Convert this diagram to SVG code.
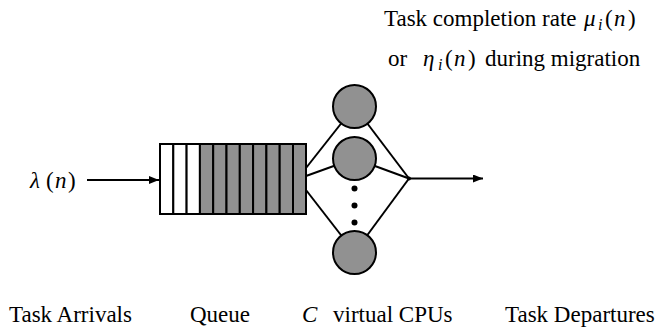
<svg xmlns="http://www.w3.org/2000/svg" width="657" height="335" viewBox="0 0 657 335">
<defs>
<style>
.ln{stroke:#000;stroke-width:2;fill:none}
.cpu{fill:#919191;stroke:#000;stroke-width:2}
.cell{stroke:#000;stroke-width:2}
</style>
<marker id="ah" viewBox="0 0 10 8" refX="10" refY="4" markerWidth="10" markerHeight="8" markerUnits="userSpaceOnUse" orient="auto">
<path d="M0,0 L10,4 L0,8 Z" fill="#000"/>
</marker>
</defs>
<rect width="657" height="335" fill="#fff"/>
<g id="connectors">
<line class="ln" x1="87" y1="180" x2="159" y2="180" marker-end="url(#ah)"/>
<line class="ln" x1="306" y1="168" x2="354.5" y2="106.5"/>
<line class="ln" x1="306" y1="176" x2="354.5" y2="158.5"/>
<line class="ln" x1="306" y1="190" x2="354.5" y2="252.5"/>
<line class="ln" x1="354.5" y1="106.5" x2="409" y2="178.5"/>
<line class="ln" x1="354.5" y1="158.5" x2="409" y2="178.5"/>
<line class="ln" x1="354.5" y1="252.5" x2="409" y2="178.5"/>
<line class="ln" x1="409" y1="178.5" x2="483" y2="178.5" marker-end="url(#ah)"/>
<circle cx="409" cy="178.5" r="2" fill="#000"/>
</g>
<g id="queue">
<rect class="cell" x="160" y="144" width="13.3" height="70" fill="#fff"/>
<rect class="cell" x="173.3" y="144" width="13.3" height="70" fill="#fff"/>
<rect class="cell" x="186.6" y="144" width="13.3" height="70" fill="#fff"/>
<rect class="cell" x="199.9" y="144" width="13.3" height="70" fill="#919191"/>
<rect class="cell" x="213.2" y="144" width="13.3" height="70" fill="#919191"/>
<rect class="cell" x="226.5" y="144" width="13.3" height="70" fill="#919191"/>
<rect class="cell" x="239.8" y="144" width="13.3" height="70" fill="#919191"/>
<rect class="cell" x="253.1" y="144" width="13.3" height="70" fill="#919191"/>
<rect class="cell" x="266.4" y="144" width="13.3" height="70" fill="#919191"/>
<rect class="cell" x="279.7" y="144" width="13.3" height="70" fill="#919191"/>
<rect class="cell" x="293" y="144" width="13" height="70" fill="#919191"/>
</g>
<g id="cpu1"><circle class="cpu" cx="354.5" cy="106.5" r="21.5"/></g>
<g id="cpu2"><circle class="cpu" cx="354.5" cy="158.5" r="21.5"/></g>
<g id="dots">
<circle cx="354.5" cy="188.5" r="3" fill="#000"/>
<circle cx="354.5" cy="205.5" r="3" fill="#000"/>
<circle cx="354.5" cy="222.5" r="3" fill="#000"/>
</g>
<g id="cpu3"><circle class="cpu" cx="354.5" cy="252.5" r="21.5"/></g>
<g id="arrival-rate">
<text y="188" font-family="Liberation Serif" font-size="23"><tspan font-style="italic" x="30">λ</tspan><tspan x="46">(</tspan><tspan font-style="italic" x="55">n</tspan><tspan x="68">)</tspan></text>
</g>
<g id="rate-label">
<text x="384" y="26" font-family="Liberation Serif" font-size="23">Task completion rate</text>
<text y="26" font-family="Liberation Serif" font-size="23"><tspan font-style="italic" x="584">μ</tspan><tspan font-style="italic" x="598" y="30" font-size="16">i</tspan><tspan x="605" y="26">(</tspan><tspan font-style="italic" x="614">n</tspan><tspan x="628">)</tspan></text>
<text y="66" font-family="Liberation Serif" font-size="23"><tspan x="388">or</tspan><tspan font-style="italic" x="423">η</tspan><tspan font-style="italic" x="438" y="70" font-size="16">i</tspan><tspan x="445" y="66">(</tspan><tspan font-style="italic" x="454">n</tspan><tspan x="468">)</tspan><tspan x="485">during migration</tspan></text>
</g>
<g id="bottom-labels">
<text x="9" y="322" font-family="Liberation Serif" font-size="23">Task Arrivals</text>
<text x="190" y="322" font-family="Liberation Serif" font-size="23">Queue</text>
<text y="322" font-family="Liberation Serif" font-size="23"><tspan font-style="italic" x="302">C</tspan><tspan x="333">virtual CPUs</tspan></text>
<text x="505" y="322" font-family="Liberation Serif" font-size="23">Task Departures</text>
</g>
</svg>
